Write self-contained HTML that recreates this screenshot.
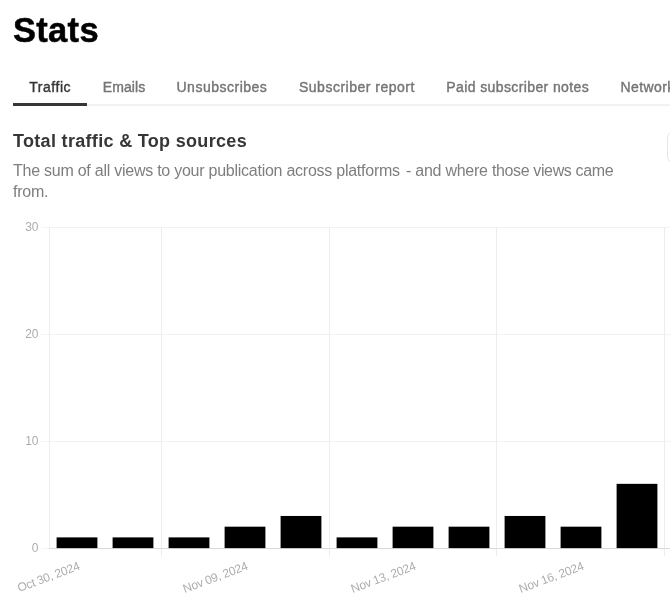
<!DOCTYPE html>
<html><head><meta charset="utf-8">
<style>
*{box-sizing:border-box;margin:0;padding:0}
html,body{width:670px;height:610px;overflow:hidden;background:#fff}
body{font-family:"Liberation Sans",sans-serif;position:relative}
h1{position:absolute;left:13px;top:10.3px;-webkit-text-stroke:0.5px #000;font-size:34.5px;line-height:40px;font-weight:700;color:#000;letter-spacing:0.3px;white-space:nowrap}
.tabs{position:absolute;left:13px;top:69px;width:700px;height:37px;border-bottom:2px solid #f1f2f2;white-space:nowrap}
.tab{position:absolute;top:0;height:36px;line-height:36px;font-size:14px;font-weight:400;color:#757575;-webkit-text-stroke:0.4px #757575}
.tab.on{color:#363636;-webkit-text-stroke:0.4px #363636}
.ul{position:absolute;left:0;top:34.2px;width:74px;height:2.5px;background:#363636}
h2{position:absolute;left:13px;top:129px;font-size:18px;line-height:24px;font-weight:700;color:#363636;white-space:nowrap;letter-spacing:0.32px}
p{position:absolute;left:13px;top:160.4px;width:640px;font-size:16px;line-height:21px;color:#7e7e7e;letter-spacing:-0.25px}
.btn{position:absolute;left:667px;top:130px;width:40px;height:34px;border:1px solid #e6e6e6;border-radius:8px}
svg{position:absolute;left:0;top:210px}
svg text{font-family:"Liberation Sans",sans-serif;font-size:12px;fill:#adadad}
.xl text{letter-spacing:-0.25px;word-spacing:-0.2px}
</style></head><body>
<h1>Stats</h1>
<div class="tabs">
<div class="tab on" style="left:16.2px;letter-spacing:0.55px">Traffic</div>
<div class="tab" style="left:89.7px;letter-spacing:0.1px">Emails</div>
<div class="tab" style="left:163.5px;letter-spacing:0.5px">Unsubscribes</div>
<div class="tab" style="left:286px;letter-spacing:0.5px">Subscriber report</div>
<div class="tab" style="left:433.3px;letter-spacing:0.39px">Paid subscriber notes</div>
<div class="tab" style="left:607.6px;letter-spacing:0.4px">Network</div>
<div class="ul"></div>
</div>
<h2>Total traffic &amp; Top sources</h2>
<p>The sum of all views to your publication across platforms <span style="margin-left:2px">-</span> and where <span style="letter-spacing:-0.37px">those views came</span><br>from.</p>
<div class="btn"></div>
<svg width="670" height="400" viewBox="0 210 670 400">
<g fill="#f1f2f2">
<rect x="41" y="227" width="629" height="1"/>
<rect x="41" y="334" width="629" height="1"/>
<rect x="41" y="441" width="629" height="1"/>
<rect x="41" y="548" width="8" height="1"/>
</g>
<g fill="#eceded">
<rect x="49" y="227" width="1" height="321"/>
<rect x="161" y="227" width="1" height="329"/>
<rect x="329" y="227" width="1" height="329"/>
<rect x="496" y="227" width="1" height="329"/>
<rect x="664" y="227" width="1" height="329"/>
</g>
<rect x="49" y="548" width="621" height="1" fill="#dadcdc"/>
<g fill="#000">
<rect x="56.60" y="537.39" width="40.8" height="10.71"/>
<rect x="112.60" y="537.39" width="40.8" height="10.71"/>
<rect x="168.60" y="537.39" width="40.8" height="10.71"/>
<rect x="224.60" y="526.68" width="40.8" height="21.42"/>
<rect x="280.60" y="515.97" width="40.8" height="32.13"/>
<rect x="336.60" y="537.39" width="40.8" height="10.71"/>
<rect x="392.60" y="526.68" width="40.8" height="21.42"/>
<rect x="448.60" y="526.68" width="40.8" height="21.42"/>
<rect x="504.60" y="515.97" width="40.8" height="32.13"/>
<rect x="560.60" y="526.68" width="40.8" height="21.42"/>
<rect x="616.60" y="483.84" width="40.8" height="64.26"/>
</g>
<g text-anchor="end">
<text x="38.5" y="231.4">30</text>
<text x="38.5" y="338.4">20</text>
<text x="38.5" y="445.4">10</text>
<text x="38.5" y="552.4">0</text>
</g>
<g class="xl" text-anchor="end">
<text transform="translate(79.00,565.2) rotate(-20.5)" dy="4.3">Oct 30, 2024</text>
<text transform="translate(247.00,565.2) rotate(-20.5)" dy="4.3">Nov 09, 2024</text>
<text transform="translate(415.00,565.2) rotate(-20.5)" dy="4.3">Nov 13, 2024</text>
<text transform="translate(583.00,565.2) rotate(-20.5)" dy="4.3">Nov 16, 2024</text>
</g>
</svg>
</body></html>
